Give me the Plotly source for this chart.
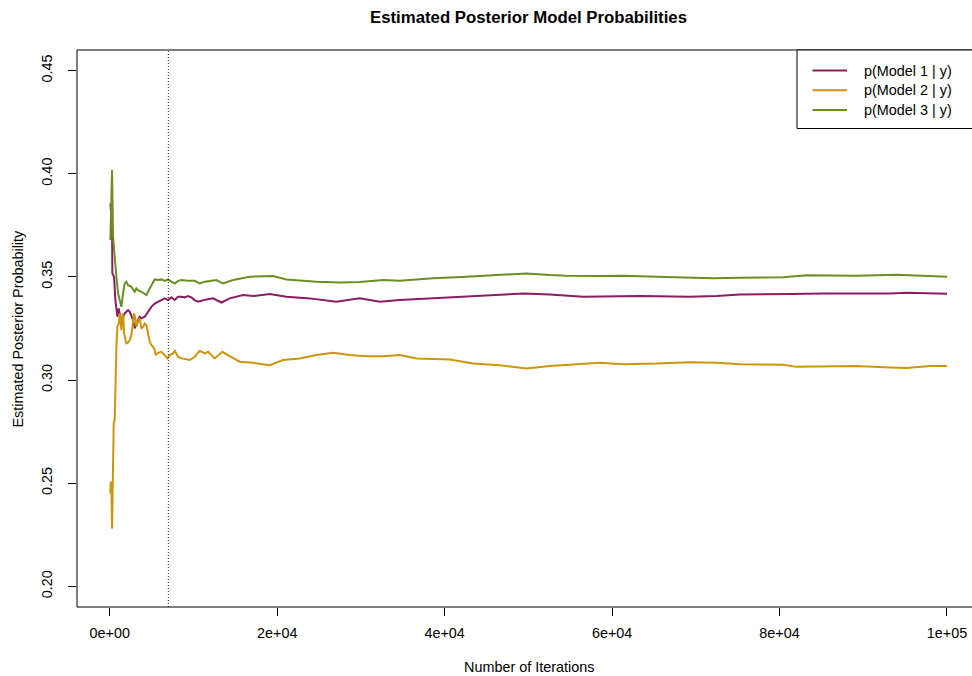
import plotly.graph_objects as go

# ---------------- data ----------------
series_names = ["p(Model 1 | y)", "p(Model 2 | y)", "p(Model 3 | y)"]
series_colors = ["#8B1C62", "#CD950C", "#6B8E23"]

iter_m1 = [80, 199, 279, 318, 518, 677, 796, 916, 1075, 1234, 1394, 1593, 1792, 1991, 2190,
           2389, 2588, 2787, 2986, 3186, 3385, 3584, 3783, 4181, 4579, 4977, 5376, 5774, 6172,
           6570, 6968, 7367, 7765, 8163, 8561, 8959, 9358, 9756, 10154, 10552, 11548, 12345,
           13340, 14336, 15929, 17123, 19114, 21105, 23893, 27078, 29866, 32255, 34644, 38626,
           42608, 45395, 49377, 52563, 56545, 63319, 69292, 72478, 75265, 81238, 85220, 93184,
           95175, 100000]
prob_m1 = [0.3856, 0.3808, 0.3743, 0.3517, 0.3501, 0.3388, 0.3339, 0.3307, 0.3347, 0.3315,
           0.3258, 0.3307, 0.3323, 0.3331, 0.3339, 0.3331, 0.3315, 0.3291, 0.3250, 0.3274,
           0.3291, 0.3307, 0.3299, 0.3307, 0.3331, 0.3355, 0.3371, 0.3380, 0.3388, 0.3396,
           0.3388, 0.3401, 0.3388, 0.3404, 0.3404, 0.3401, 0.3407, 0.3401, 0.3388, 0.3380,
           0.3391, 0.3396, 0.3376, 0.3396, 0.3412, 0.3407, 0.3417, 0.3404, 0.3396, 0.3380,
           0.3396, 0.3380, 0.3388, 0.3396, 0.3404, 0.3412, 0.3420, 0.3415, 0.3404, 0.3407,
           0.3404, 0.3407, 0.3415, 0.3417, 0.3420, 0.3420, 0.3423, 0.3418]

iter_m2 = [80, 120, 199, 279, 358, 478, 597, 677, 796, 916, 1075, 1195, 1314, 1394, 1513,
           1633, 1712, 1871, 1991, 2190, 2389, 2588, 2787, 2907, 3066, 3186, 3385, 3584, 3783,
           3982, 4181, 4380, 4579, 4778, 4977, 5177, 5376, 5495, 5774, 6172, 6570, 6889, 7168,
           7566, 7765, 8163, 8561, 8959, 9557, 10154, 10751, 11349, 11748, 12544, 13460, 14336,
           15530, 17123, 19114, 20707, 22698, 24689, 26680, 28671, 30662, 32653, 34644, 36635,
           40617, 43404, 46590, 49776, 52563, 55350, 58536, 61328, 65310, 69292, 72478, 75265,
           80442, 82034, 89202, 93184, 95175, 97962, 100000]
prob_m2 = [0.2450, 0.2507, 0.2499, 0.2280, 0.2450, 0.2790, 0.2806, 0.3032, 0.3161, 0.3258,
           0.3274, 0.3323, 0.3274, 0.3242, 0.3323, 0.3307, 0.3226, 0.3186, 0.3178, 0.3181,
           0.3194, 0.3218, 0.3291, 0.3323, 0.3299, 0.3258, 0.3283, 0.3299, 0.3250, 0.3258,
           0.3274, 0.3266, 0.3226, 0.3186, 0.3169, 0.3161, 0.3145, 0.3121, 0.3132, 0.3137,
           0.3121, 0.3105, 0.3121, 0.3129, 0.3142, 0.3113, 0.3105, 0.3102, 0.3097, 0.3113,
           0.3142, 0.3129, 0.3137, 0.3105, 0.3137, 0.3116, 0.3089, 0.3084, 0.3072, 0.3097,
           0.3105, 0.3121, 0.3132, 0.3121, 0.3116, 0.3116, 0.3121, 0.3105, 0.3100, 0.3080,
           0.3072, 0.3056, 0.3068, 0.3076, 0.3084, 0.3077, 0.3080, 0.3087, 0.3084, 0.3077,
           0.3074, 0.3064, 0.3068, 0.3061, 0.3059, 0.3068, 0.3068]

iter_m3 = [80, 279, 398, 597, 796, 996, 1195, 1394, 1593, 1792, 1991, 2190, 2588, 2986, 3186,
           3385, 3783, 4181, 4380, 4579, 4977, 5376, 5774, 6172, 6570, 6968, 7367, 7765, 8163,
           8561, 9358, 10154, 10751, 11349, 12743, 13539, 14734, 16725, 19512, 21105, 24689,
           27476, 29866, 32653, 34644, 38626, 42608, 46590, 49776, 52563, 54554, 58536, 61328,
           65310, 69292, 72079, 75265, 80442, 83229, 89202, 93980, 97166, 100000]
prob_m3 = [0.3679, 0.4018, 0.3695, 0.3582, 0.3501, 0.3420, 0.3388, 0.3355, 0.3420, 0.3468,
           0.3477, 0.3460, 0.3452, 0.3428, 0.3444, 0.3436, 0.3428, 0.3420, 0.3412, 0.3428,
           0.3460, 0.3488, 0.3485, 0.3488, 0.3481, 0.3488, 0.3477, 0.3468, 0.3481, 0.3485,
           0.3481, 0.3481, 0.3468, 0.3477, 0.3485, 0.3468, 0.3485, 0.3501, 0.3504, 0.3488,
           0.3477, 0.3473, 0.3475, 0.3485, 0.3481, 0.3493, 0.3501, 0.3509, 0.3517, 0.3509,
           0.3506, 0.3504, 0.3506, 0.3501, 0.3498, 0.3493, 0.3496, 0.3498, 0.3508, 0.3506,
           0.3510, 0.3504, 0.3501]

burn_in = 7000
x_tick_vals = [0, 20000, 40000, 60000, 80000, 100000]
x_tick_text = ["0e+00", "2e+04", "4e+04", "6e+04", "8e+04", "1e+05"]
y_tick_vals = [0.20, 0.25, 0.30, 0.35, 0.40, 0.45]

title_text = "Estimated Posterior Model Probabilities"
x_title = "Number of Iterations"
y_title = "Estimated Posterior Probability"

# ---------------- figure ----------------
FONT = "Liberation Sans, Arial, Helvetica, sans-serif"
W, H = 972, 676
ML, MR, MT, MB = 77, 0, 50, 69
PW = W - ML - MR
PH = H - MT - MB

fig = go.Figure()
all_iters = [iter_m1, iter_m2, iter_m3]
all_probs = [prob_m1, prob_m2, prob_m3]
for name, col, xs, ys in zip(series_names, series_colors, all_iters, all_probs):
    fig.add_trace(go.Scatter(x=xs, y=ys, mode="lines", name=name,
                             line=dict(color=col, width=2), showlegend=False))

def px_x(p):
    return (p - ML) / PW

def px_y(p):
    return (H - MB - p) / PH

shapes = []
shapes.append(dict(type="line", xref="x", yref="paper", x0=burn_in, x1=burn_in, y0=0, y1=1,
                   line=dict(color="#222222", width=1, dash="1px,2px")))
for (x0, y0, x1, y1) in [(0, 0, 0, 1), (0, 1, 1.02, 1), (0, 0, 1.02, 0)]:
    shapes.append(dict(type="line", xref="paper", yref="paper", x0=x0, y0=y0, x1=x1, y1=y1,
                       line=dict(color="black", width=1)))

annotations = []
lx0 = px_x(797)
ly0 = px_y(128.5)
shapes.append(dict(type="rect", xref="paper", yref="paper", x0=lx0, x1=1.05, y0=ly0, y1=1,
                   line=dict(color="black", width=1), fillcolor="white", layer="above"))
leg_y = [70.5, 90.3, 110.1]
for name, col, yy in zip(series_names, series_colors, leg_y):
    shapes.append(dict(type="line", xref="paper", yref="paper", x0=px_x(812.5), x1=px_x(847),
                       y0=px_y(yy), y1=px_y(yy), line=dict(color=col, width=2), layer="above"))
    annotations.append(dict(xref="paper", yref="paper", x=px_x(862), y=px_y(yy),
                            xanchor="left", yanchor="middle", text=name, showarrow=False,
                            font=dict(family=FONT, size=14.4, color="black")))

annotations.append(dict(xref="paper", yref="paper", x=px_x(528.5), y=px_y(667),
                        xanchor="center", yanchor="middle", text=x_title, showarrow=False,
                        font=dict(family=FONT, size=14.4, color="black")))
annotations.append(dict(xref="paper", yref="paper", x=px_x(17), y=0.5, textangle=-90,
                        xanchor="center", yanchor="middle", text=y_title, showarrow=False,
                        font=dict(family=FONT, size=14.4, color="black")))

fig.update_layout(
    width=W, height=H,
    margin=dict(l=ML, r=MR, t=MT, b=MB, pad=0),
    paper_bgcolor="white", plot_bgcolor="white",
    title=dict(text="<b>" + title_text + "</b>", x=528.5 / W, xanchor="center",
               xref="container", y=1 - 17 / H, yanchor="middle", yref="container",
               font=dict(family=FONT, size=16.8, color="black")),
    font=dict(family=FONT, size=14.4, color="black"),
    shapes=shapes, annotations=annotations,
    xaxis=dict(range=[-3907, 102987], showgrid=False, zeroline=False, showline=False,
               tickmode="array", tickvals=x_tick_vals, ticktext=x_tick_text,
               ticks="outside", ticklen=8, tickwidth=1, tickcolor="black",
               ticklabelstandoff=5, tickfont=dict(family=FONT, size=14.4, color="black")),
    yaxis=dict(range=[0.19, 0.46], showgrid=False, zeroline=False, showline=False,
               tickmode="array", tickvals=y_tick_vals, tickformat=".2f",
               ticks="outside", ticklen=8, tickwidth=1, tickcolor="black", tickangle=-90,
               ticklabelstandoff=10, tickfont=dict(family=FONT, size=14.4, color="black")),
)

fig.write_html("out.html", config={"displayModeBar": False},
               post_script="document.body.style.margin='0';document.body.style.padding='0';"
                           "document.body.style.overflow='hidden';")
